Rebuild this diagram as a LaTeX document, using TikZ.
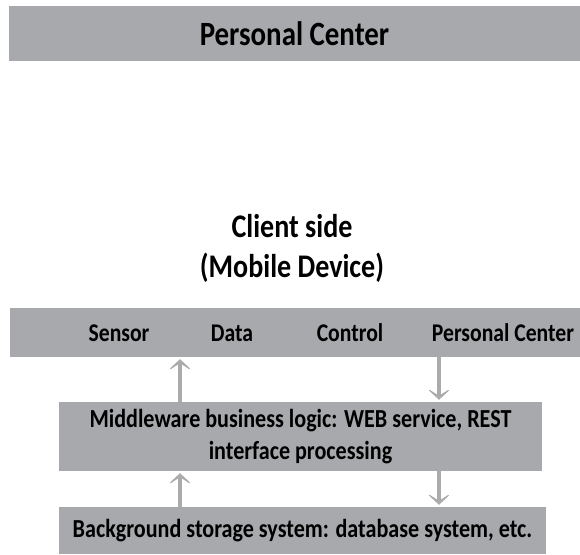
\documentclass[tikz,border=0pt]{standalone}
\usepackage{fontspec}
\setmainfont{Carlito}[FakeStretch=0.85]
\usetikzlibrary{arrows.meta}
\definecolor{panelgray}{HTML}{A7A9AC}
\definecolor{arrowgray}{HTML}{ABABAB}
\tikzset{
	panel/.style={fill=panelgray, draw=none, inner sep=0pt, font=\bfseries\fontsize{26}{32}\selectfont, align=center},
	barlabel/.style={font=\bfseries\fontsize{25.5}{27}\selectfont, inner sep=0pt},
	flow/.style={draw=arrowgray, line width=4pt, -{Stealth[length=13pt, width=28pt, inset=9pt]}, shorten >=2pt}
}
\begin{document}
\begin{tikzpicture}[x=1pt, y=-1pt]
			%%%%% START %%%%%
			\useasboundingbox (0, 0) rectangle (580, 554);
			
			\node[panel, minimum width=571pt, minimum height=55pt, font=\bfseries\fontsize{34}{36}\selectfont] (top) at (294.5, 33.5) {Personal Center};
			
			\node[font=\bfseries\fontsize{33}{40}\selectfont, align=center, inner sep=0pt] (client) at (292, 248) {Client side\\(Mobile Device)};
			
			\node[panel, minimum width=570pt, minimum height=49pt] (bar) at (295, 332.5) {};
			\node[barlabel] (sensor) at (119, 333) {Sensor};
			\node[barlabel] (data) at (232, 333) {Data};
			\node[barlabel] (control) at (350, 333) {Control};
			\node[barlabel] (pc) at (503, 333) {Personal Center};
			
			\node[panel, minimum width=483pt, minimum height=69pt] (mid) at (300.5, 436.5) {Middleware business logic: WEB service, REST\\interface processing};
			
			\node[panel, minimum width=487pt, minimum height=47pt] (store) at (302.5, 530.5) {Background storage system: database system, etc.};
			
			\coordinate (upx) at (180, 0);
			\coordinate (downx) at (439, 0);
			
			\draw[flow] (mid.north -| upx) -- (bar.south -| upx);
			\draw[flow] (bar.south -| downx) -- (mid.north -| downx);
			\draw[flow] (store.north -| upx) -- (mid.south -| upx);
			\draw[flow] (mid.south -| downx) -- (store.north -| downx);
			%%%%% END %%%%%
\end{tikzpicture}
\end{document}
